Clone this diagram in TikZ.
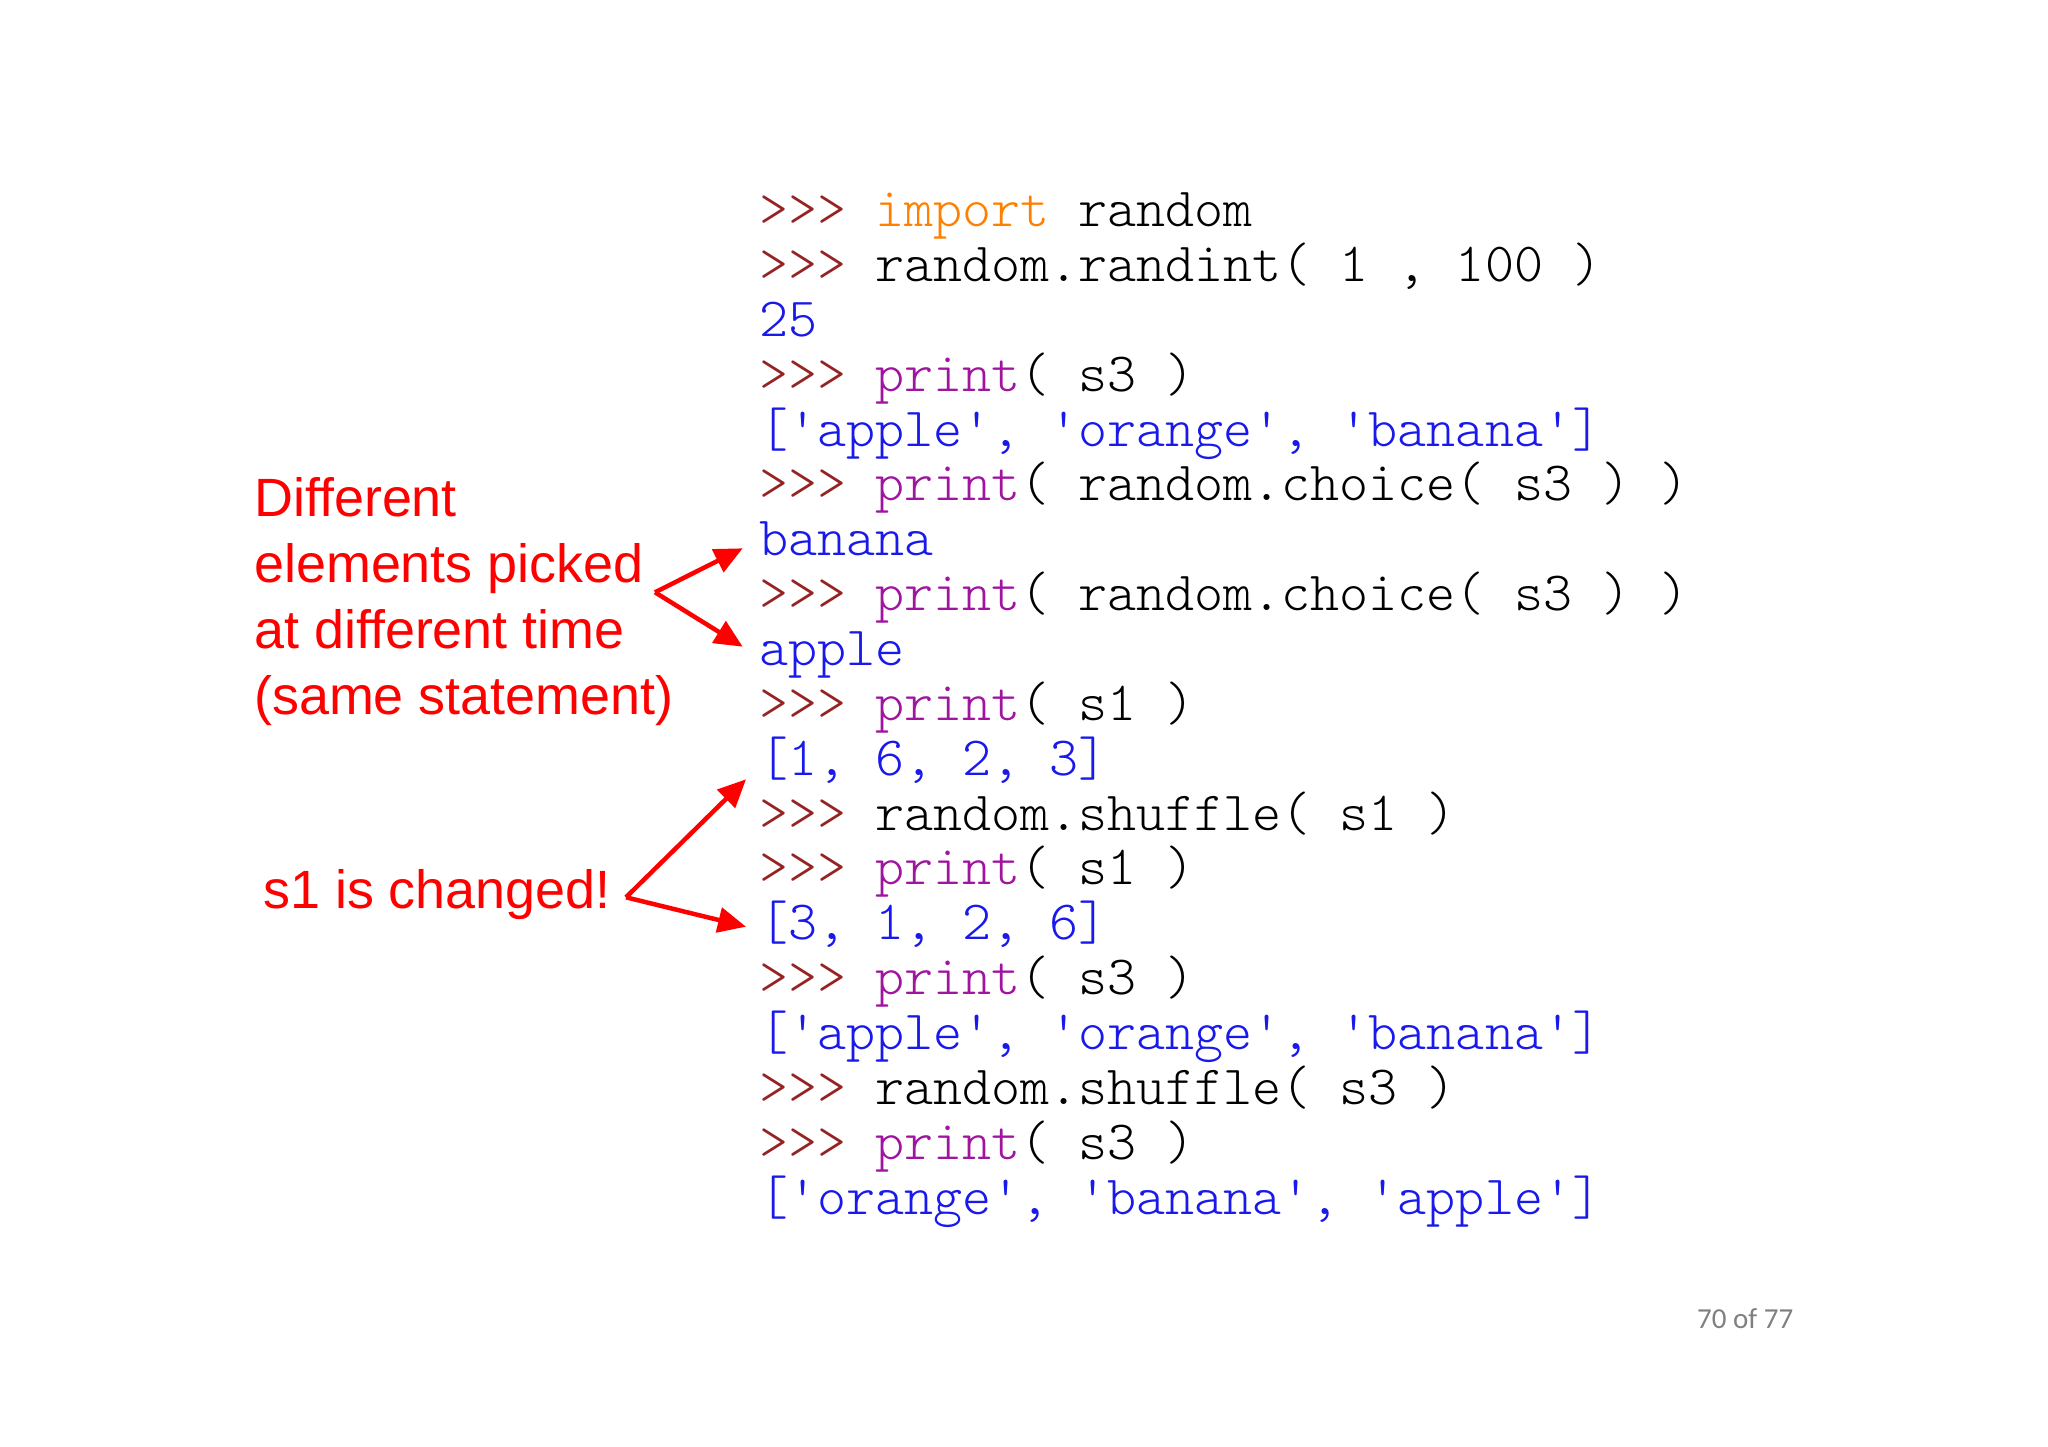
\documentclass[tikz,border=0pt]{standalone}
\usepackage{fontspec}
\setmainfont{Liberation Sans}
\setmonofont{Latin Modern Mono Light}
\newfontfamily\pagefont{Carlito}
\usetikzlibrary{arrows.meta}
\definecolor{promptred}{RGB}{150,35,35}
\definecolor{kworange}{RGB}{255,128,0}
\definecolor{kwpurple}{RGB}{160,20,160}
\definecolor{outblue}{RGB}{25,25,235}
\definecolor{notered}{RGB}{255,0,0}
\definecolor{pagegray}{RGB}{128,128,128}
\newcommand\prm{\textcolor{promptred}{>>>}}
\newcommand\kwp[1]{\textcolor{kwpurple}{#1}}
\newcommand\kwo[1]{\textcolor{kworange}{#1}}
\newcommand\outp[1]{\textcolor{outblue}{#1}}
\begin{document}
\begin{tikzpicture}[x=1pt,y=-1pt,
  code/.style={anchor=base west, inner sep=0pt, text=black, font=\ttfamily\fontsize{55.3}{60}\selectfont},
  note/.style={anchor=base west, inner sep=0pt, text=notered, font=\fontsize{53.9}{66}\selectfont},
  callout/.style={draw=notered, line width=4.5pt, -{Triangle[length=28pt,width=25pt]}},
  pagenum/.style={anchor=base west, inner sep=0pt, text=pagegray, font=\pagefont\fontsize{29}{34}\selectfont}]
\useasboundingbox[fill=white] (0,0) rectangle (2048,1447);
% code listing
\node[code] (l1)  at (759,226.7)  {\prm{} \kwo{import} random};
\node[code] (l2)  at (759,281.55) {\prm{} random.randint( 1 , 100 )};
\node[code] (l3)  at (759,336.4)  {\outp{25}};
\node[code] (l4)  at (759,391.25) {\prm{} \kwp{print}( s3 )};
\node[code] (l5)  at (759,446.1)  {\outp{['apple', 'orange', 'banana']}};
\node[code] (l6)  at (759,500.95) {\prm{} \kwp{print}( random.choice( s3 ) )};
\node[code] (l7)  at (759,555.8)  {\outp{banana}};
\node[code] (l8)  at (759,610.65) {\prm{} \kwp{print}( random.choice( s3 ) )};
\node[code] (l9)  at (759,665.5)  {\outp{apple}};
\node[code] (l10) at (759,720.35) {\prm{} \kwp{print}( s1 )};
\node[code] (l11) at (759,775.2)  {\outp{[1, 6, 2, 3]}};
\node[code] (l12) at (759,830.05) {\prm{} random.shuffle( s1 )};
\node[code] (l13) at (759,884.9)  {\prm{} \kwp{print}( s1 )};
\node[code] (l14) at (759,939.75) {\outp{[3, 1, 2, 6]}};
\node[code] (l15) at (759,994.6)  {\prm{} \kwp{print}( s3 )};
\node[code] (l16) at (759,1049.45){\outp{['apple', 'orange', 'banana']}};
\node[code] (l17) at (759,1104.3) {\prm{} random.shuffle( s3 )};
\node[code] (l18) at (759,1159.15){\prm{} \kwp{print}( s3 )};
\node[code] (l19) at (759,1214)   {\outp{['orange', 'banana', 'apple']}};
% notes
\node[note] (n1) at (254,516) {Different};
\node[note] (n2) at (254,582) {elements picked};
\node[note] (n3) at (254,648) {at different time};
\node[note] (n4) at (254,714) {(same statement)};
\node[note] (n5) at (263,908.3) {s1 is changed!};
% arrows
\coordinate (v1) at (655,592.3);
\coordinate (t1) at (742.7,548.3);
\coordinate (t2) at (742.7,646.7);
\coordinate (v2) at (626,897.3);
\coordinate (t3) at (746,779.3);
\coordinate (t4) at (746,926.7);
\draw[callout] (v1) -- (t1);
\draw[callout] (v1) -- (t2);
\draw[callout] (v2) -- (t3);
\draw[callout] (v2) -- (t4);
% page number
\node[pagenum] (pg) at (1697,1328.3) {70 of 77};
\end{tikzpicture}
\end{document}
